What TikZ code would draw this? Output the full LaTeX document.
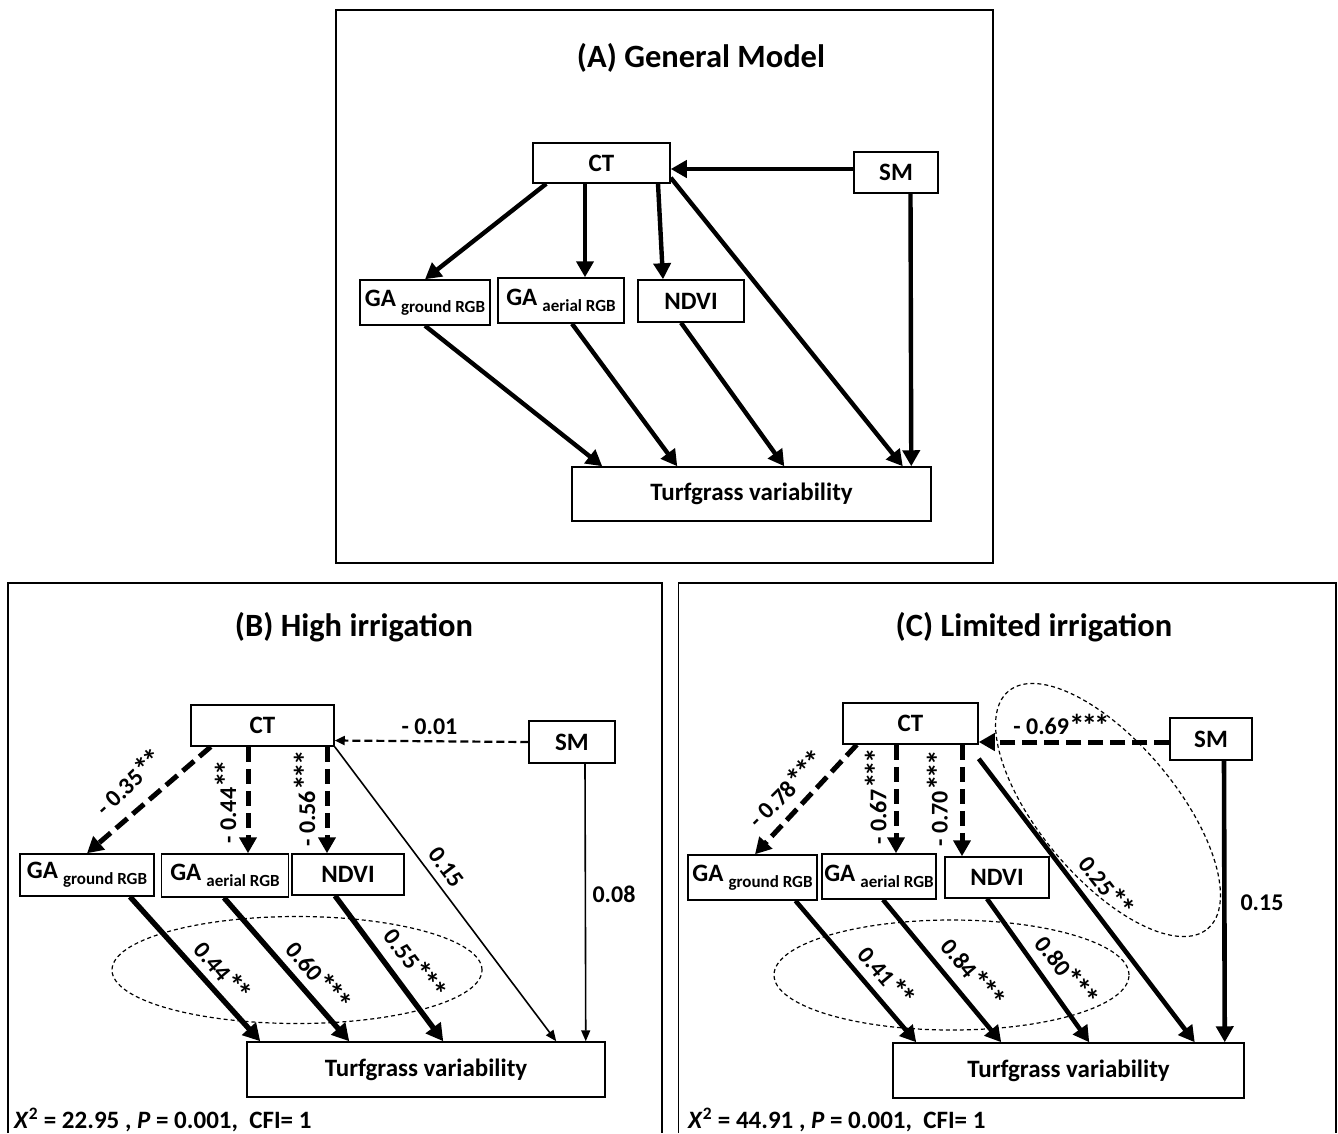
\documentclass[tikz,border=0pt]{standalone}
\usepackage{fontspec}
\usepackage{graphicx}
\setmainfont{Carlito}
\usetikzlibrary{arrows.meta,shapes.geometric}
\newcommand\myNodeFont{\fontsize{25}{25}\selectfont\bfseries}
\newcommand\myLabFont{\fontsize{24}{24}\selectfont\bfseries}
\newcommand\myGA[1]{GA\hspace{5pt}\raisebox{-6pt}{\fontsize{17}{17}\selectfont #1}}
\newcommand\myStar{\raisebox{-1.5pt}{\scalebox{1.3}{*}}\kern-3pt}
\begin{document}
\begin{tikzpicture}[x=1pt,y=-1pt,
  box/.style={draw, line width=1.5pt, inner sep=0pt, font=\myNodeFont},
  solA/.style={line width=4.4pt, -{Triangle[length=16pt,width=17pt]}},
  thk/.style={line width=4.6pt, -{Triangle[length=16pt,width=17pt]}},
  thkB/.style={line width=5.4pt, -{Triangle[length=17pt,width=18pt]}},
  thn/.style={line width=1.6pt, -{Triangle[length=11pt,width=9pt]}},
  dsh/.style={line width=5pt, dash pattern=on 15pt off 7pt, -{Triangle[length=16pt,width=17pt]}},
  dshthin/.style={line width=2.2pt, dash pattern=on 8pt off 4pt, -{Triangle[length=10pt,width=9pt]}},
  ell/.style={draw, ellipse, line width=1.2pt, dash pattern=on 4pt off 3pt, inner sep=0pt},
  lab/.style={font=\myLabFont, inner sep=0pt},
  stat/.style={font=\fontsize{25}{25}\selectfont\bfseries, inner sep=0pt},
  ttl/.style={font=\fontsize{32.5}{32.5}\selectfont\bfseries, inner sep=0pt},
  frm/.style={line width=1.6pt}]
\useasboundingbox (0,0) rectangle (1338,1133);

% ---------------- Panel A ----------------
\draw[frm] (336,10) rectangle (993,563);
\node[ttl] (tA) at (701,58) {(A) General Model};
\node[box, minimum width=137pt, minimum height=40pt] (ctA) at (601.5,163) {CT};
\node[box, minimum width=84pt, minimum height=41pt] (smA) at (896,172.5) {SM};
\node[box, minimum width=130pt, minimum height=45pt] (gagA) at (425,302.5) {\myGA{ground RGB}};
\node[box, minimum width=126pt, minimum height=45pt] (gaaA) at (561,300.5) {\myGA{aerial RGB}};
\node[box, minimum width=106pt, minimum height=42pt] (ndA) at (691,301) {NDVI};
\node[box, minimum width=359pt, minimum height=54pt] (tfA) at (751.5,494) {Turfgrass variability};

\draw[solA] ([yshift=3.5pt]smA.west) -- ([yshift=-6pt]ctA.east);
\draw[solA] ([xshift=14pt]ctA.south west) -- (gagA.north);
\draw[solA] ([xshift=-16.5pt]ctA.south) -- ([xshift=24pt]gaaA.north);
\draw[solA] ([xshift=56.5pt]ctA.south) -- ([xshift=-28pt]ndA.north);
\draw[solA] ([yshift=6pt]ctA.south east) -- ([xshift=-29pt]tfA.north east);
\draw[solA] ([xshift=14.5pt]smA.south) -- ([xshift=-20.5pt]tfA.north east);
\draw[solA] (gagA.south) -- ([xshift=31pt]tfA.north west);
\draw[solA] ([xshift=11pt]gaaA.south) -- ([xshift=106pt]tfA.north west);
\draw[solA] ([xshift=-10pt]ndA.south) -- ([xshift=213pt]tfA.north west);

% ---------------- Panel B ----------------
\draw[frm] (8,1133) -- (8,583) -- (662,583) -- (662,1133);
\node[ttl] (tB) at (354,627) {(B) High irrigation};
\node[box, minimum width=143pt, minimum height=41pt] (ctB) at (262.5,725.5) {CT};
\node[box, minimum width=86pt, minimum height=42pt] (smB) at (572,742) {SM};
\node[box, minimum width=134pt, minimum height=42pt] (gagB) at (87,875) {\myGA{ground RGB}};
\node[box, minimum width=127pt, minimum height=43pt] (gaaB) at (225,875.5) {\myGA{aerial RGB}};
\node[box, minimum width=112pt, minimum height=41pt] (ndB) at (348,874.5) {NDVI};
\node[box, minimum width=358pt, minimum height=55pt] (tfB) at (426,1069.5) {Turfgrass variability};
\node[ell, minimum width=370pt, minimum height=107pt] (elB) at (297,970) {};

\draw[dshthin] (smB.west) -- ([yshift=-15pt]ctB.east);
\draw[dsh] ([xshift=20.5pt]ctB.south west) -- (gagB.north);
\draw[dsh] ([xshift=-14.5pt]ctB.south) -- ([xshift=23pt]gaaB.north);
\draw[dsh] ([xshift=64.5pt]ctB.south) -- ([xshift=-21pt]ndB.north);
\draw[thn] (ctB.south east) -- ([xshift=-49.5pt]tfB.north east);
\draw[thn] ([xshift=13pt]smB.south) -- ([xshift=-20pt]tfB.north east);
\draw[thkB] ([xshift=43pt]gagB.south) -- ([xshift=14pt]tfB.north west);
\draw[thkB] ([xshift=-1pt]gaaB.south) -- ([xshift=103pt]tfB.north west);
\draw[thkB] ([xshift=-13pt]ndB.south) -- ([xshift=197pt]tfB.north west);

\node[lab] (lB0) at (429.5,727) {- 0.01};
\node[lab, rotate=43] (lB1) at (128,783) {- 0.35\myStar\myStar};
\node[lab, rotate=90] (lB2) at (226.5,803) {- 0.44\myStar\myStar};
\node[lab, rotate=90] (lB3) at (305.5,800) {- 0.56\myStar\myStar\myStar};
\node[lab, rotate=-53] (lB4) at (446.6,867) {0.15};
\node[lab] (lB5) at (614,894) {0.08};
\node[lab, rotate=-50] (lB6) at (222,970) {0.44\myStar\myStar};
\node[lab, rotate=-50] (lB7) at (318,975) {0.60\myStar\myStar\myStar};
\node[lab, rotate=-53] (lB8) at (414.5,963) {0.55\myStar\myStar\myStar};
\node[stat, anchor=west] (stB) at (14,1120) {\textit{X}\textsuperscript{2} = 22.95 , \textit{P} = 0.001,\ \ CFI= 1};

% ---------------- Panel C ----------------
\draw[frm] (678.5,1133) -- (678.5,583) -- (1336,583) -- (1336,1133);
\node[ttl] (tC) at (1034,627) {(C) Limited irrigation};
\node[box, minimum width=135pt, minimum height=41pt] (ctC) at (910.5,723.5) {CT};
\node[box, minimum width=82pt, minimum height=42pt] (smC) at (1211,739) {SM};
\node[box, minimum width=129pt, minimum height=45pt] (gagC) at (752.5,877.5) {\myGA{ground RGB}};
\node[box, minimum width=114pt, minimum height=45pt] (gaaC) at (879,876.5) {\myGA{aerial RGB}};
\node[box, minimum width=104pt, minimum height=41pt] (ndC) at (997,877.5) {NDVI};
\node[box, minimum width=351pt, minimum height=55pt] (tfC) at (1068.5,1070.5) {Turfgrass variability};
\node[ell, minimum width=355pt, minimum height=110pt] (elC1) at (951.5,975) {};
\node[ell, minimum width=310pt, minimum height=136pt, rotate=-50] (elC2) at (1108,810) {};

\draw[dsh] ([yshift=-3pt]smC.west) -- ([yshift=-18.5pt]ctC.east);
\draw[dsh] ([xshift=14.5pt]ctC.south west) -- ([xshift=2.5pt]gagC.north);
\draw[dsh] ([xshift=-14.5pt]ctC.south) -- ([xshift=17pt]gaaC.north);
\draw[dsh] ([xshift=51.5pt]ctC.south) -- ([xshift=-35pt]ndC.north);
\draw[thk] ([yshift=-14pt]ctC.south east) -- ([xshift=-50pt]tfC.north east);
\draw[thk] ([xshift=13pt]smC.south) -- ([xshift=-20pt]tfC.north east);
\draw[thk] ([xshift=43pt]gagC.south) -- ([xshift=24pt]tfC.north west);
\draw[thk] ([xshift=4pt]gaaC.south) -- ([xshift=109pt]tfC.north west);
\draw[thk] ([xshift=-10pt]ndC.south) -- ([xshift=197pt]tfC.north west);

\node[lab] (lC0) at (1060,725) {- 0.69\myStar\myStar\myStar};
\node[lab, rotate=45] (lC1) at (785,790) {- 0.78\myStar\myStar\myStar};
\node[lab, rotate=90] (lC2) at (876.6,798) {- 0.67\myStar\myStar\myStar};
\node[lab, rotate=90] (lC3) at (938,800) {- 0.70\myStar\myStar\myStar};
\node[lab, rotate=-52] (lC4) at (1105.7,885) {0.25\myStar\myStar};
\node[lab] (lC5) at (1262,903) {0.15};
\node[lab, rotate=-50] (lC6) at (886,975) {0.41\myStar\myStar};
\node[lab, rotate=-50] (lC7) at (972.5,972) {0.84\myStar\myStar\myStar};
\node[lab, rotate=-52] (lC8) at (1066,970) {0.80\myStar\myStar\myStar};
\node[stat, anchor=west] (stC) at (688,1120) {\textit{X}\textsuperscript{2} = 44.91 , \textit{P} = 0.001,\ \ CFI= 1};
\end{tikzpicture}
\end{document}
